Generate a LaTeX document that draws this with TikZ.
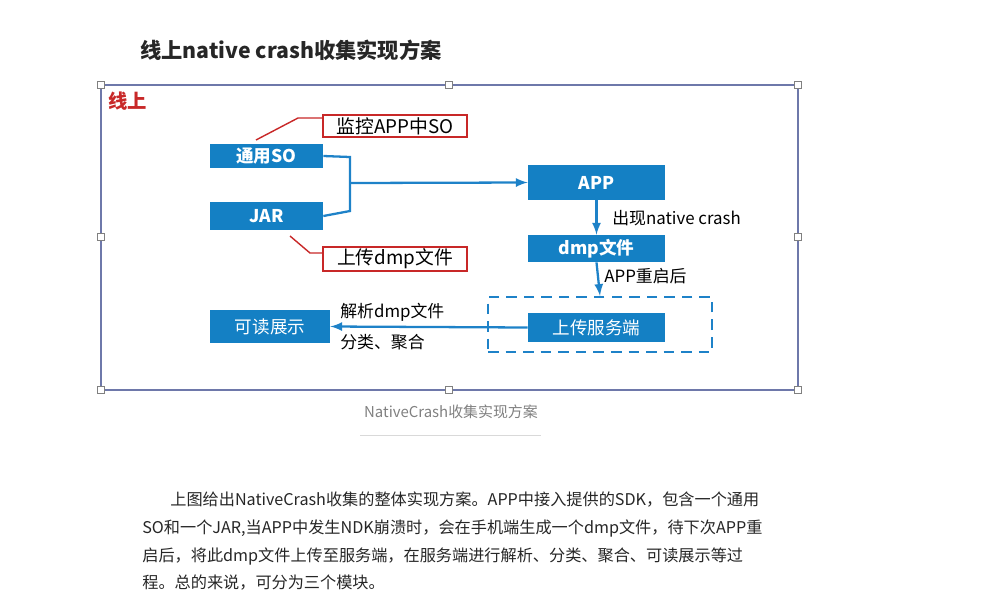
\documentclass[tikz,border=0pt]{standalone}
\usepackage{fontspec}
\setmainfont{Noto Sans CJK SC}
\usetikzlibrary{positioning}
\definecolor{boxblue}{RGB}{20,128,196}
\definecolor{linkblue}{RGB}{30,130,200}
\definecolor{framegray}{RGB}{110,120,170}
\definecolor{tagred}{RGB}{200,40,40}
\tikzset{
  bluebox/.style={fill=boxblue, text=white, inner sep=0pt, font=\fontsize{10}{12}\selectfont\bfseries},
  tagbox/.style={draw=tagred, thick, inner sep=0pt, font=\fontsize{10.7}{13}\selectfont},
  flow/.style={linkblue, line width=1.3pt, -latex},
  lbl/.style={font=\fontsize{9.6}{12}\selectfont, anchor=west, inner sep=0pt, text=black},
  para/.style={font=\fontsize{9.2}{11}\selectfont, anchor=west, inner sep=0pt, text=black!85},
  handle/.style={draw=gray, fill=white, minimum size=4pt, inner sep=0pt}
}
\begin{document}
\begin{tikzpicture}[x=0.02cm, y=-0.02cm]
    \useasboundingbox (0,0) rectangle (987,599);

    % title
    \node[anchor=west, inner sep=0pt, font=\fontsize{12.1}{15}\selectfont\bfseries, text=black!85] (title) at (140,50) {线上native crash收集实现方案};

    % frame
    \draw[framegray, line width=0.8pt] (101,85) rectangle (798,390);
    \foreach \hx/\hy in {101/85, 449/85, 798/85, 101/237, 798/237, 101/390, 449/390, 798/390}
        \node[handle] at (\hx,\hy) {};
    \node[anchor=west, inner sep=0pt, text=tagred, font=\fontsize{11}{13}\selectfont\bfseries] (online) at (108,101) {线上};

    % boxes
    \node[bluebox, minimum width=113*0.02cm, minimum height=24*0.02cm] (so) at (266.5,156) {通用SO};
    \node[bluebox, minimum width=113*0.02cm, minimum height=28*0.02cm] (jar) at (266.5,216) {JAR};
    \node[tagbox, minimum width=144*0.02cm, minimum height=22*0.02cm] (monitor) at (395,126) {监控APP中SO};
    \node[tagbox, minimum width=144*0.02cm, minimum height=24*0.02cm] (upload) at (395,259) {上传dmp文件};
    \node[bluebox, minimum width=137*0.02cm, minimum height=35*0.02cm] (app) at (596.5,182.5) {APP};
    \node[bluebox, minimum width=137*0.02cm, minimum height=27*0.02cm] (dmp) at (596.5,248.5) {dmp文件};
    \node[bluebox, minimum width=137*0.02cm, minimum height=29*0.02cm, font=\fontsize{10}{12}\selectfont] (server) at (596.5,327.5) {上传服务端};
    \node[bluebox, minimum width=120*0.02cm, minimum height=33*0.02cm, font=\fontsize{10}{12}\selectfont] (show) at (270,326.5) {可读展示};
    \node[draw=linkblue, dashed, line width=1.3pt, minimum width=224*0.02cm, minimum height=55*0.02cm, dash pattern=on 6pt off 4pt] (cloud) at (600,324.5) {};

    % callout lines
    \draw[tagred, thick] (256,140) -- (298,118) -- (monitor.west |- 0,118);
    \draw[tagred, thick] (290,236) -- (310,253) -- (upload.west |- 0,253);

    % connectors
    \coordinate (join) at (350,183);
    \draw[linkblue, line width=1.3pt] (so.east) -- (350,157) -- (350,211) -- (jar.east);
    \draw[flow] (join) -- (app.west);
    \draw[flow] (app.south) -- (dmp.north);
    \draw[flow] (dmp.south) -- (cloud.north);
    \draw[flow] (server.west) -- (show.east);
    \node[lbl] (crash) at (612,218) {出现native crash};
    \node[lbl] (restart) at (604,276) {APP重启后};
    \node[lbl] (parse) at (340,312) {解析dmp文件};
    \node[lbl] (group) at (340,342) {分类、聚合};

    % caption
    \node[inner sep=0pt, text=gray, font=\fontsize{8.5}{11}\selectfont] (caption) at (451,412) {NativeCrash收集实现方案};
    \draw[black!15] (360,435) -- (541,435);

    % body text
    \node[para] (p1) at (170,500) {上图给出NativeCrash收集的整体实现方案。APP中接入提供的SDK，包含一个通用};
    \node[para] (p2) at (142,528) {SO和一个JAR,当APP中发生NDK崩溃时，会在手机端生成一个dmp文件，待下次APP重};
    \node[para] (p3) at (142,556) {启后，将此dmp文件上传至服务端，在服务端进行解析、分类、聚合、可读展示等过};
    \node[para] (p4) at (142,583) {程。总的来说，可分为三个模块。};
\end{tikzpicture}
\end{document}
